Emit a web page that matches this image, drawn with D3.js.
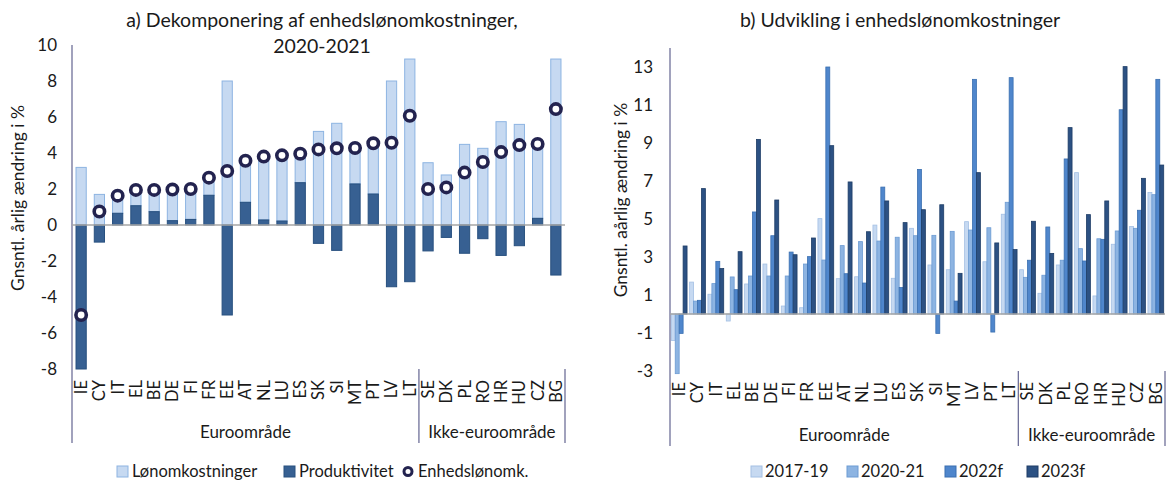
<!DOCTYPE html>
<html>
<head>
<meta charset="utf-8">
<script src="https://cdn.jsdelivr.net/npm/d3@7"></script>
<style>
body { margin: 0; background: #fff; }
svg { font-family: Lato, "Open Sans", sans-serif; }
</style>
</head>
<body>
<svg width="1171" height="482"></svg>
<script>
// panel a
var catsA = ["IE","CY","IT","EL","BE","DE","FI","FR","EE","AT","NL","LU","ES","SK","SI","MT","PT","LV","LT","SE","DK","PL","RO","HR","HU","CZ","BG"];
var wage = [3.2,1.7,0.98,0.88,1.21,1.73,1.69,0.98,8.0,2.31,3.52,3.65,1.61,5.2,5.65,2.0,2.82,8.0,9.22,3.46,2.78,4.48,4.26,5.74,5.59,4.13,9.22];
var prod = [-8.2,-0.95,0.65,1.07,0.74,0.24,0.31,1.65,-5.0,1.26,0.28,0.22,2.35,-1.02,-1.41,2.28,1.72,-3.43,-3.15,-1.44,-0.69,-1.57,-0.76,-1.69,-1.15,0.37,-2.78];
var ulc = [-5.0,0.75,1.63,1.95,1.95,1.97,2.0,2.63,3.0,3.57,3.8,3.87,3.96,4.2,4.26,4.28,4.54,4.57,6.07,2.0,2.09,2.91,3.5,4.05,4.44,4.5,6.44];
var ticksA = [-8,-6,-4,-2,0,2,4,6,8,10];

// panel b
var catsB = ["IE","CY","IT","EL","BE","DE","FI","FR","EE","AT","NL","LU","ES","SK","SI","MT","LV","PT","LT","SE","DK","PL","RO","HR","HU","CZ","BG"];
var years = ["2017-19","2020-21","2022f","2023f"];
var s1719 = [-1.39,1.68,1.04,-0.37,1.58,2.63,0.42,0.33,5.02,1.86,1.96,4.68,1.88,4.51,2.58,2.33,4.86,2.75,5.25,2.33,1.09,2.58,7.44,0.95,3.67,4.61,6.4];
var s2021 = [-3.14,0.68,1.6,1.95,2.0,2.0,2.0,2.63,2.84,3.6,3.81,3.84,4.04,4.12,4.14,4.35,4.42,4.54,5.88,1.93,2.04,2.83,3.44,3.96,4.37,4.51,6.28];
var s2022 = [-1.02,0.72,2.77,1.28,5.37,4.12,3.26,3.02,13.0,2.12,1.63,6.68,1.39,7.61,-1.02,0.68,12.35,-0.95,12.44,2.83,4.58,8.16,2.79,3.93,10.75,5.46,12.35];
var s2023 = [3.58,6.6,2.39,3.28,9.19,6.0,3.12,4.0,8.86,6.95,4.33,5.95,4.81,5.49,5.75,2.14,7.44,3.74,3.39,4.88,3.19,9.81,5.23,5.95,13.02,7.14,7.84];
var ticksB = [-3,-1,1,3,5,7,9,11,13];

var groups = [{name: "Euroområde", n: 19}, {name: "Ikke-euroområde", n: 8}];

var svg = d3.select("svg");
var axisCol = "#6f7099", zeroCol = "#a6a6a6", textCol = "#1a1a1a";

function frame(x, y, cats, top, bottom, lineBottom) {
  var x0 = x.range()[0], x1 = x.range()[1];
  svg.append("line").attr("x1", x0).attr("x2", x0).attr("y1", top).attr("y2", lineBottom)
    .attr("stroke", axisCol).attr("stroke-width", 1.3);
  svg.append("line").attr("x1", x0).attr("x2", x1).attr("y1", y(0)).attr("y2", y(0))
    .attr("stroke", zeroCol).attr("stroke-width", 1.3);
  svg.append("g").selectAll("text").data(cats).enter().append("text")
    .attr("transform", function(d) { return "translate(" + (x(d) + x.bandwidth() / 2) + "," + (bottom + 11) + ") rotate(-90)"; })
    .attr("text-anchor", "end").attr("dy", "0.36em")
    .attr("font-size", 16.5).attr("fill", textCol)
    .text(function(d) { return d; });
  var i = 0;
  groups.forEach(function(gr) {
    var a = x0 + i * x.step(), b = x0 + (i + gr.n) * x.step();
    if (i + gr.n == cats.length) b = x1;
    svg.append("line").attr("x1", b).attr("x2", b).attr("y1", bottom).attr("y2", lineBottom)
      .attr("stroke", axisCol).attr("stroke-width", 1.3);
    svg.append("text").attr("x", (a + b) / 2).attr("y", lineBottom - 5)
      .attr("text-anchor", "middle").attr("font-size", 17).attr("fill", textCol).text(gr.name);
    i += gr.n;
  });
}

function yTicks(y, ticks, xr) {
  svg.append("g").selectAll("text").data(ticks).enter().append("text")
    .attr("x", xr).attr("y", function(d) { return y(d); }).attr("dy", "0.35em")
    .attr("text-anchor", "end").attr("font-size", 17).attr("fill", textCol)
    .text(function(d) { return d; });
}

// ---- panel a
var xA = d3.scaleBand().domain(catsA).range([72, 565]).paddingInner(0.44).paddingOuter(0.22);
var yA = d3.scaleLinear().domain([-8, 10]).range([369, 45]).clamp(true);

var gA = svg.append("g");
gA.selectAll(".wage").data(catsA).enter().append("rect")
  .attr("x", function(d) { return xA(d); })
  .attr("width", xA.bandwidth())
  .attr("y", function(d, i) { var b = Math.max(prod[i], 0); return yA(b + wage[i]); })
  .attr("height", function(d, i) { var b = Math.max(prod[i], 0); return yA(b) - yA(b + wage[i]); })
  .attr("fill", "#c6d9f1").attr("stroke", "#8db4e2").attr("stroke-width", 1);
gA.selectAll(".prod").data(catsA).enter().append("rect")
  .attr("x", function(d) { return xA(d); })
  .attr("width", xA.bandwidth())
  .attr("y", function(d, i) { return yA(Math.max(prod[i], 0)); })
  .attr("height", function(d, i) { return Math.abs(yA(0) - yA(prod[i])); })
  .attr("fill", "#376092").attr("stroke", "#28507f").attr("stroke-width", 1);

frame(xA, yA, catsA, 45, 369, 443);

gA.selectAll("circle").data(catsA).enter().append("circle")
  .attr("cx", function(d) { return xA(d) + xA.bandwidth() / 2; })
  .attr("cy", function(d, i) { return yA(ulc[i]); })
  .attr("r", 5.2).attr("fill", "#fff").attr("stroke", "#23234f").attr("stroke-width", 3.6);

yTicks(yA, ticksA, 57);

svg.append("text").attr("x", 322).attr("y", 27).attr("text-anchor", "middle")
  .attr("font-size", 19.5).attr("fill", textCol).text("a) Dekomponering af enhedslønomkostninger,");
svg.append("text").attr("x", 322).attr("y", 53).attr("text-anchor", "middle")
  .attr("font-size", 19.5).attr("fill", textCol).text("2020-2021");
svg.append("text").attr("transform", "translate(18,198) rotate(-90)").attr("text-anchor", "middle")
  .attr("dy", "0.35em").attr("font-size", 17.5).attr("fill", textCol).text("Gnsntl. årlig ændring i %");

// legend a
var legA = svg.append("g").attr("font-size", 16.5).attr("fill", textCol);
legA.append("rect").attr("x", 117).attr("y", 466).attr("width", 11).attr("height", 11)
  .attr("fill", "#c6d9f1").attr("stroke", "#8db4e2");
legA.append("text").attr("x", 132).attr("y", 471.5).attr("dy", "0.36em").text("Lønomkostninger");
legA.append("rect").attr("x", 284).attr("y", 466).attr("width", 11).attr("height", 11)
  .attr("fill", "#376092").attr("stroke", "#28507f");
legA.append("text").attr("x", 299).attr("y", 471.5).attr("dy", "0.36em").text("Produktivitet");
legA.append("circle").attr("cx", 408).attr("cy", 471.5).attr("r", 4)
  .attr("fill", "#fff").attr("stroke", "#23234f").attr("stroke-width", 3);
legA.append("text").attr("x", 418).attr("y", 471.5).attr("dy", "0.36em").text("Enhedslønomk.");

// ---- panel b
var series = [s1719, s2021, s2022, s2023];
var fills = ["#c6d9f1", "#8db4e2", "#4f86cc", "#2c5183"];
var strokes = ["#a4c0e4", "#6c9bd3", "#3a6fb0", "#1e3d66"];

var xB = d3.scaleBand().domain(catsB).range([670, 1165]).paddingInner(0.14).paddingOuter(0.07);
var xB1 = d3.scaleBand().domain(years).range([0, xB.bandwidth()]);
var yB = d3.scaleLinear().domain([-3, 14]).range([371, 48]);

var gB = svg.append("g");
series.forEach(function(s, k) {
  gB.selectAll(".s" + k).data(catsB).enter().append("rect")
    .attr("x", function(d) { return xB(d) + xB1(years[k]); })
    .attr("width", xB1.bandwidth())
    .attr("y", function(d, i) { return yB(Math.max(s[i], 0)); })
    .attr("height", function(d, i) { return Math.abs(yB(0) - yB(s[i])); })
    .attr("fill", fills[k]).attr("stroke", strokes[k]).attr("stroke-width", 0.8);
});

frame(xB, yB, catsB, 48, 371, 446);
yTicks(yB, ticksB, 653);

svg.append("text").attr("x", 900).attr("y", 27).attr("text-anchor", "middle")
  .attr("font-size", 19.5).attr("fill", textCol).text("b) Udvikling i enhedslønomkostninger");
svg.append("text").attr("transform", "translate(621,200) rotate(-90)").attr("text-anchor", "middle")
  .attr("dy", "0.35em").attr("font-size", 17.5).attr("fill", textCol).text("Gnsntl. aårlig ændring i %");

var legX = [751, 847, 945, 1027];
var legB = svg.append("g").attr("font-size", 16.5).attr("fill", textCol);
years.forEach(function(yr, k) {
  legB.append("rect").attr("x", legX[k]).attr("y", 466).attr("width", 11).attr("height", 11)
    .attr("fill", fills[k]).attr("stroke", strokes[k]);
  legB.append("text").attr("x", legX[k] + 14).attr("y", 471.5).attr("dy", "0.36em").text(yr);
});
</script>
</body>
</html>
